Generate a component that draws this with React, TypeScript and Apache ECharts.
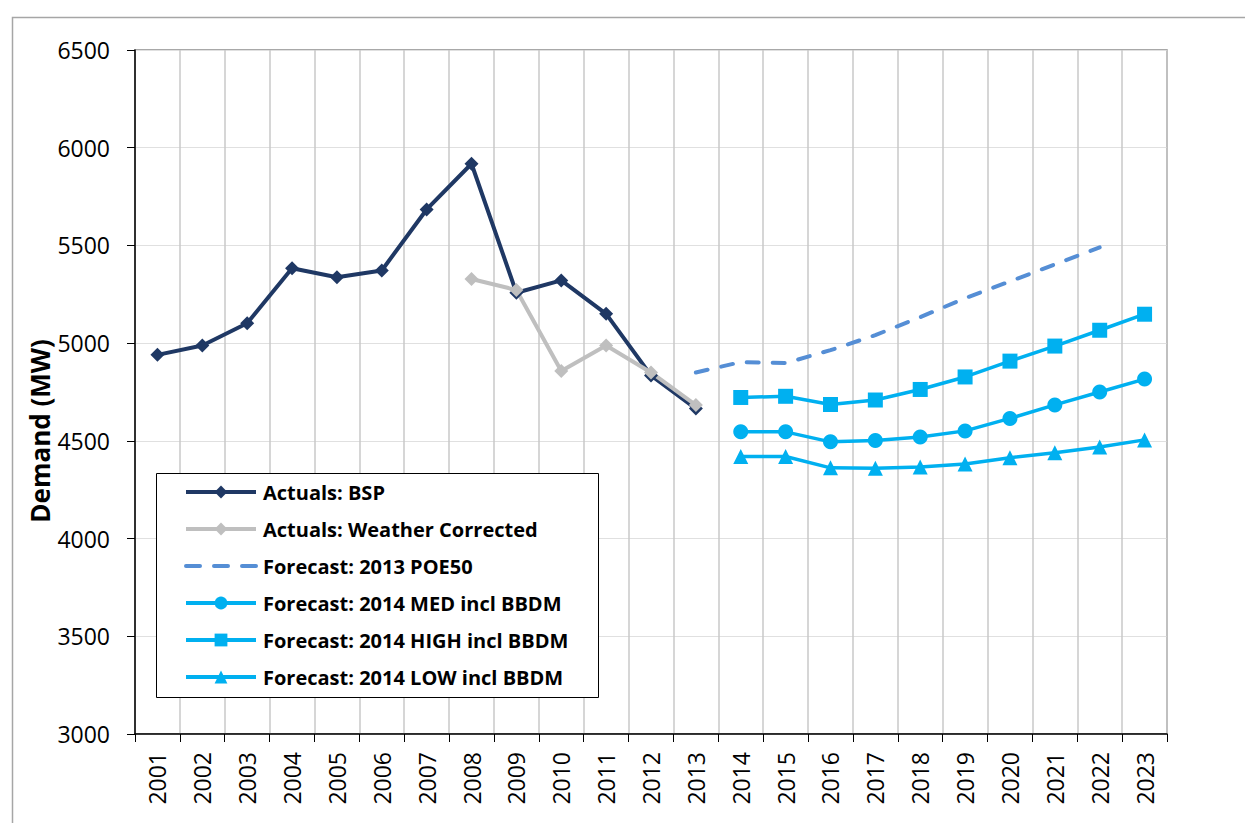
import React, { useEffect, useRef } from "react";
import * as echarts from "echarts";

const years = ["2001","2002","2003","2004","2005","2006","2007","2008","2009","2010","2011","2012","2013","2014","2015","2016","2017","2018","2019","2020","2021","2022","2023"];
const actualsBSP = [4940, 4988, 5102, 5383, 5337, 5372, 5684, 5918, 5258, 5321, 5150, 4835, 4665, null, null, null, null, null, null, null, null, null, null];
const actualsWC = [null, null, null, null, null, null, null, 5328, 5272, 4857, 4988, 4850, 4683, null, null, null, null, null, null, null, null, null, null];
const poe50 = [null, null, null, null, null, null, null, null, null, null, null, null, 4850, 4903, 4898, 4964, 5041, 5133, 5230, 5316, 5403, 5490, null];
const med = [null, null, null, null, null, null, null, null, null, null, null, null, null, 4546, 4546, 4495, 4502, 4520, 4551, 4615, 4684, 4750, 4816];
const high = [null, null, null, null, null, null, null, null, null, null, null, null, null, 4722, 4728, 4686, 4709, 4763, 4827, 4908, 4985, 5066, 5148];
const low = [null, null, null, null, null, null, null, null, null, null, null, null, null, 4420, 4420, 4362, 4360, 4366, 4382, 4414, 4439, 4469, 4505];
const yTicks = { min: 3000, max: 6500, interval: 500 };
const seriesNames = [
  "Actuals: BSP",
  "Actuals: Weather Corrected",
  "Forecast: 2013 POE50",
  "Forecast: 2014 MED incl BBDM",
  "Forecast: 2014 HIGH incl BBDM",
  "Forecast: 2014 LOW incl BBDM",
];
const yAxisTitle = "Demand (MW)";

const NAVY = "#1f3864";
const GREY = "#bfbfbf";
const DASH = "#558ed5";
const BLUE = "#00b0f0";
const LABEL_FONT = "'Open Sans', sans-serif";

export default function App() {
  const ref = useRef<HTMLDivElement>(null);
  useEffect(() => {
    if (!ref.current) return;
    const chart = echarts.init(ref.current, null, { renderer: "svg" });
    const lineSeries = (name: string, data: any[], color: string, symbol: string, size: number, width: number, extra: any = {}) => ({
      name,
      type: "line",
      data,
      symbol,
      symbolSize: size,
      connectNulls: false,
      lineStyle: { color, width },
      itemStyle: { color },
      z: 3,
      ...extra,
    });
    const dashType = [12, 14];
    chart.setOption({
      animation: false,
      backgroundColor: "#ffffff",
      textStyle: { fontFamily: LABEL_FONT },
      grid: { left: 135, right: 78, top: 50, bottom: 89, show: true, borderColor: "#8c8c8c", borderWidth: 1.5 },
      graphic: [
        { type: "rect", left: 10, top: 15, shape: { width: 1300, height: 900 }, style: { fill: "none", stroke: "#a6a6a6", lineWidth: 1.5 }, z: 0, silent: true },
        { type: "rect", left: 156, top: 473, shape: { width: 442, height: 224 }, style: { fill: "#ffffff", stroke: "#000000", lineWidth: 1 }, z: 10, silent: true },
        {
          type: "text",
          x: 40,
          y: 431,
          rotation: Math.PI / 2,
          style: { text: yAxisTitle, fontFamily: LABEL_FONT, fontWeight: "bold", fontSize: 26, fill: "#000", align: "center", verticalAlign: "middle" },
          z: 10,
          silent: true,
        },
      ],
      legend: {
        orient: "vertical",
        left: 156,
        top: 473,
        padding: [9, 10, 10, 28],
        itemWidth: 70,
        itemHeight: 16,
        itemGap: 17,
        z: 20,
        lineStyle: { width: 4 },
        textStyle: { fontFamily: LABEL_FONT, fontWeight: "bold", fontSize: 20, lineHeight: 20, color: "#000", padding: [0, 0, 0, 2] },
        data: seriesNames.map((n, i) =>
          i === 2
            ? { name: n, itemStyle: { opacity: 0 }, lineStyle: { width: 4, type: [14, 14], cap: "round", color: DASH } }
            : { name: n }
        ),
      },
      xAxis: {
        type: "category",
        data: years,
        boundaryGap: true,
        axisLine: { lineStyle: { color: "#000", width: 1.5 } },
        axisTick: { show: true, length: 8, lineStyle: { color: "#000" } },
        axisLabel: { rotate: 90, fontSize: 23, color: "#000", margin: 18, fontFamily: LABEL_FONT },
        splitLine: { show: true, lineStyle: { color: "#c8c8c8", width: 1.5 } },
      },
      yAxis: {
        type: "value",
        min: yTicks.min,
        max: yTicks.max,
        interval: yTicks.interval,
        axisLine: { show: true, lineStyle: { color: "#000", width: 1.5 } },
        axisTick: { show: true, length: 8, lineStyle: { color: "#000" } },
        axisLabel: { fontSize: 23, color: "#000", margin: 25, fontFamily: LABEL_FONT, formatter: (v: number) => String(v) },
        splitLine: { show: true, lineStyle: { color: "#e0e0e0", width: 1 } },
      },
      series: [
        lineSeries(seriesNames[0], actualsBSP, NAVY, "diamond", 14, 4),
        lineSeries(seriesNames[1], actualsWC, GREY, "diamond", 14, 4),
        lineSeries(seriesNames[2], poe50, DASH, "none", 0, 4, { lineStyle: { color: DASH, width: 4, type: dashType, cap: "round" } }),
        lineSeries(seriesNames[3], med, BLUE, "circle", 15, 3.5),
        lineSeries(seriesNames[4], high, BLUE, "rect", 15, 3.5),
        lineSeries(seriesNames[5], low, BLUE, "triangle", 15, 3.5),
      ],
    });
    return () => chart.dispose();
  }, []);
  return <div ref={ref} style={{ position: "absolute", left: 0, top: 0, width: 1245, height: 823 }} />;
}
